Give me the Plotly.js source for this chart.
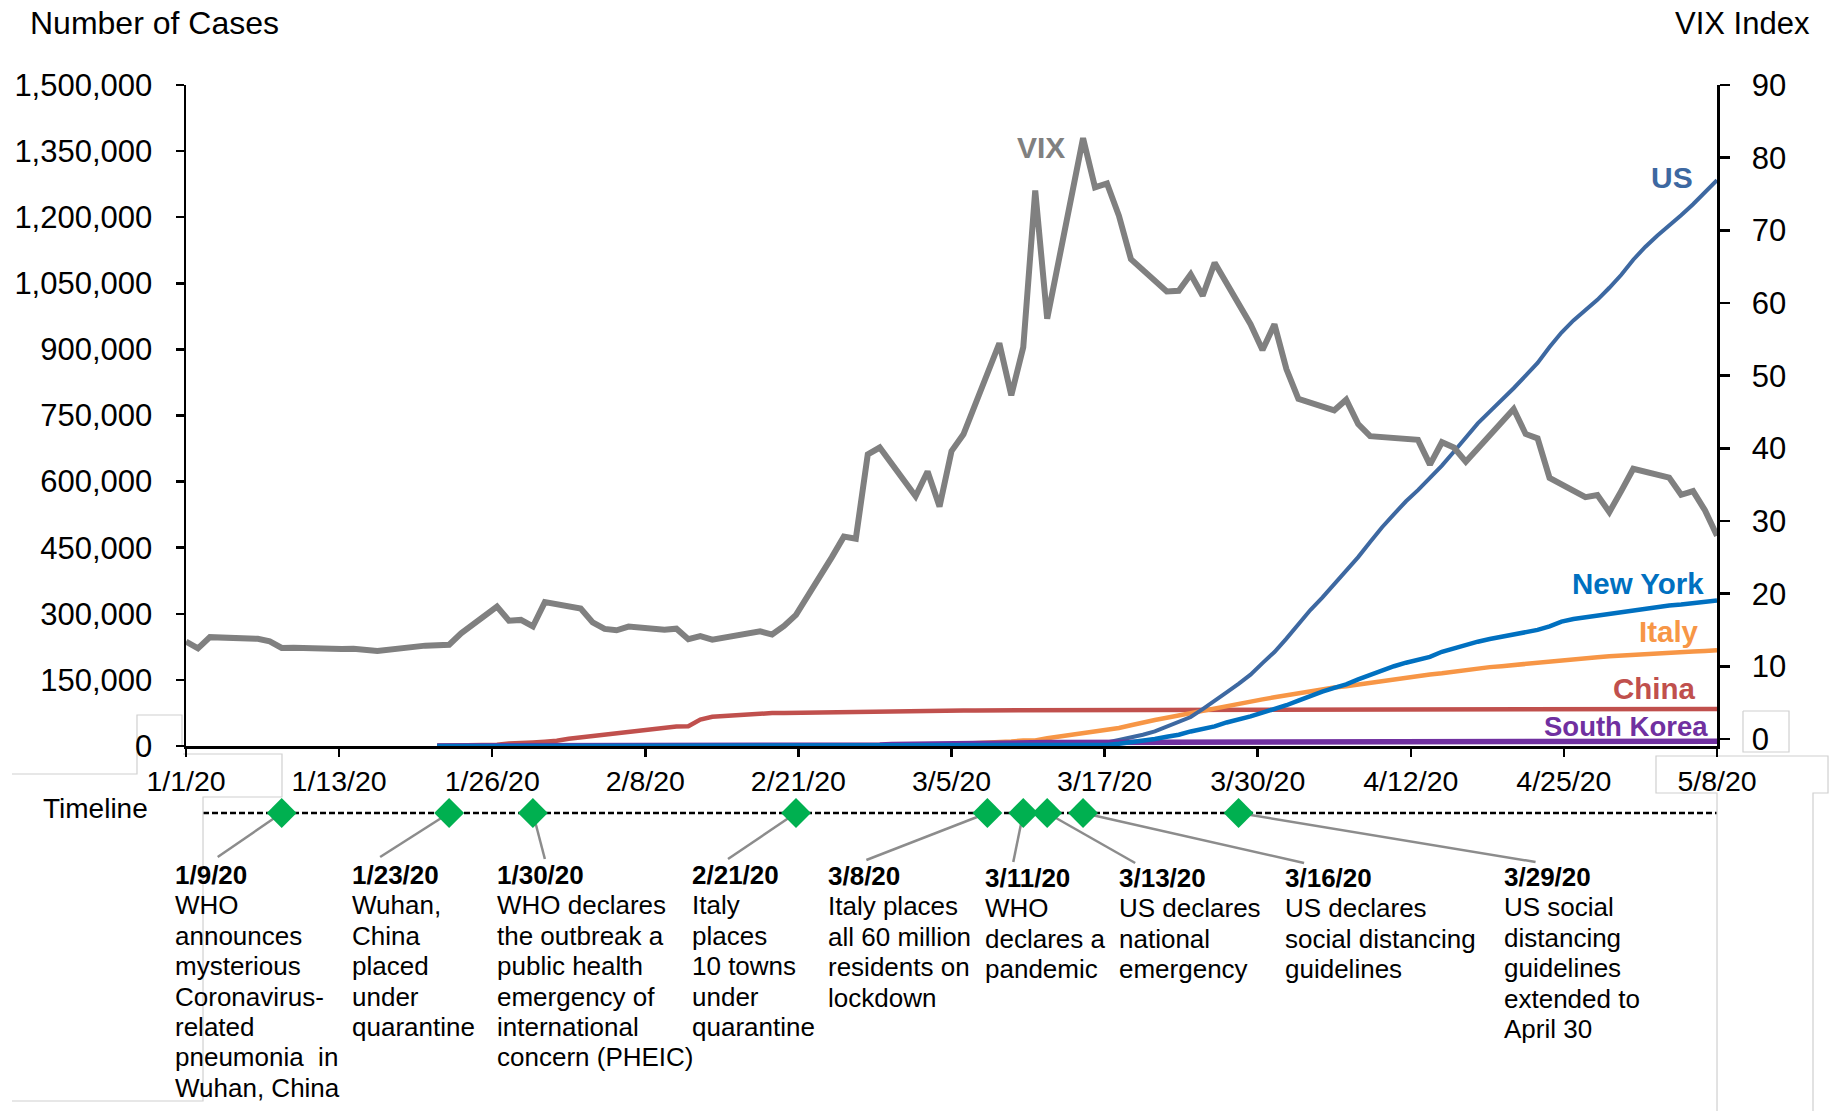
<!DOCTYPE html>
<html>
<head>
<meta charset="utf-8">
<script src="https://cdn.plot.ly/plotly-3.0.1.min.js"></script>
<style>
  html, body { margin: 0; padding: 0; background: #ffffff; }
  #chart { width: 1832px; height: 1111px; }
</style>
</head>
<body>
<div id="chart"></div>
<script>
// ---------------------------------------------------------------------------
// Data
// ---------------------------------------------------------------------------

// Cumulative confirmed cases, one value per day starting 2020-01-22
const casesStart = '2020-01-22';

const chinaCases = [
  548, 643, 920, 1406, 2075, 2877, 5509, 6087, 8141, 9802,
  11891, 16630, 19716, 23707, 27440, 30587, 34110, 36814, 39829, 42354,
  44386, 44759, 59895, 66358, 68413, 70513, 72434, 74211, 74619, 75077,
  75550, 77001, 77022, 77241, 77754, 78166, 78600, 78928, 79356,
  79932, 80136, 80261, 80386, 80537, 80690, 80770, 80823, 80860, 80887,
  80921, 80932, 80945, 80977, 81003, 81033, 81058, 81102, 81156, 81250,
  81305, 81435, 81498, 81591, 81661, 81782, 81897, 81999, 82122, 82198, 82279,
  82361, 82432, 82511, 82543, 82602, 82665, 82718, 82809, 82883, 82941,
  83014, 83134, 83213, 83306, 83356, 83403, 83760, 83787, 83805, 83817,
  83853, 83868, 83884, 83899, 83909, 83912, 83918, 83940, 83944, 83956,
  83959, 83959, 83964, 83966, 83968, 83970, 83975, 83976
];

const italyCases = [
  0, 0, 0, 0, 0, 0, 0, 0, 0, 2,
  2, 2, 2, 2, 2, 3, 3, 3, 3, 3,
  3, 3, 3, 3, 3, 3, 3, 3, 3, 3,
  20, 62, 155, 229, 322, 453, 655, 888, 1128,
  1694, 2036, 2502, 3089, 3858, 4636, 5883, 7375, 9172, 10149,
  12462, 12462, 17660, 21157, 24747, 27980, 31506, 35713, 41035, 47021,
  53578, 59138, 63927, 69176, 74386, 80589, 86498, 92472, 97689, 101739, 105792,
  110574, 115242, 119827, 124632, 128948, 132547, 135586, 139422, 143626, 147577,
  152271, 156363, 159516, 162488, 165155, 168941, 172434, 175925, 178972, 181228,
  183957, 187327, 189973, 192994, 195351, 197675, 199414, 201505, 203591, 205463,
  207428, 209328, 210717, 211938, 213013, 214457, 215858, 217185
];

const usCases = [
  1, 1, 2, 2, 5, 5, 5, 6, 6, 8,
  8, 8, 11, 11, 12, 12, 12, 12, 12, 12,
  13, 13, 14, 15, 15, 15, 15, 15, 15, 15,
  35, 35, 35, 53, 53, 59, 60, 62, 70,
  76, 101, 122, 153, 221, 278, 417, 537, 605, 959,
  1281, 1663, 2179, 2726, 3499, 4632, 6421, 7783, 13747, 19273,
  25600, 33276, 43847, 53740, 65778, 83836, 101657, 121465, 140909, 161831, 188172,
  213242, 243622, 275367, 308650, 336802, 366317, 397121, 428654, 462780, 496535,
  526396, 555313, 580619, 607670, 636350, 667801, 699706, 732197, 758809, 784326,
  811865, 840351, 869170, 905358, 938154, 965785, 988197, 1012582, 1039909, 1069424,
  1103461, 1132539, 1158040, 1180375, 1204351, 1229331, 1257023, 1283929
];

const southKoreaCases = [
  1, 1, 2, 2, 3, 4, 4, 4, 4, 11,
  12, 15, 15, 16, 19, 23, 24, 24, 25, 27,
  28, 28, 28, 28, 28, 29, 30, 31, 31,
  104, 204, 433, 602, 833, 977, 1261, 1766, 2337, 3150,
  3736, 4335, 5186, 5621, 6088, 6593, 7041, 7314, 7478, 7513,
  7755, 7869, 7979, 8086, 8162, 8236, 8320, 8413, 8565, 8652,
  8799, 8897, 8961, 9037, 9137, 9241, 9332, 9478, 9583, 9661, 9786,
  9887, 9976, 10062, 10156, 10237, 10284, 10331, 10384, 10423, 10450,
  10480, 10512, 10537, 10564, 10591, 10613, 10635, 10653, 10661, 10674,
  10683, 10694, 10708, 10718, 10728, 10738, 10752, 10761, 10765, 10774,
  10780, 10793, 10801, 10804, 10806, 10810, 10822, 10840
];

const newYorkCases = [
  0, 0, 0, 0, 0, 0, 0, 0, 0, 0,
  0, 0, 0, 0, 0, 0, 0, 0, 0, 0,
  0, 0, 0, 0, 0, 0, 0, 0, 0, 0,
  0, 0, 0, 0, 0, 0, 0, 0, 0,
  1, 1, 2, 11, 23, 31, 76, 106, 142, 173,
  220, 328, 421, 525, 732, 967, 1706, 2495, 5365, 8310,
  11710, 15793, 20875, 25665, 33066, 38987, 44635, 53363, 59568, 67174, 75832,
  83948, 92506, 102987, 113833, 123160, 131815, 139875, 151061, 161779, 172348,
  181026, 189033, 195031, 202208, 213779, 222284, 229642, 236732, 242786, 247512,
  251690, 257216, 263460, 271590, 282143, 288045, 291996, 295106, 299691, 304372,
  308314, 312977, 316415, 318953, 321192, 323978, 327469, 330407
];

// VIX closing levels (trading days)
const vixDates = [
  '2020-01-01', '2020-01-02', '2020-01-03', '2020-01-06', '2020-01-07', '2020-01-08',
  '2020-01-09', '2020-01-10', '2020-01-13', '2020-01-14', '2020-01-15', '2020-01-16',
  '2020-01-17', '2020-01-21', '2020-01-22', '2020-01-23', '2020-01-24', '2020-01-27',
  '2020-01-28', '2020-01-29', '2020-01-30', '2020-01-31',
  '2020-02-03', '2020-02-04', '2020-02-05', '2020-02-06', '2020-02-07', '2020-02-10',
  '2020-02-11', '2020-02-12', '2020-02-13', '2020-02-14', '2020-02-18', '2020-02-19',
  '2020-02-20', '2020-02-21', '2020-02-24', '2020-02-25', '2020-02-26', '2020-02-27',
  '2020-02-28',
  '2020-03-02', '2020-03-03', '2020-03-04', '2020-03-05', '2020-03-06', '2020-03-09',
  '2020-03-10', '2020-03-11', '2020-03-12', '2020-03-13', '2020-03-16', '2020-03-17',
  '2020-03-18', '2020-03-19', '2020-03-20', '2020-03-23', '2020-03-24', '2020-03-25',
  '2020-03-26', '2020-03-27', '2020-03-30', '2020-03-31',
  '2020-04-01', '2020-04-02', '2020-04-03', '2020-04-06', '2020-04-07', '2020-04-08',
  '2020-04-09', '2020-04-13', '2020-04-14', '2020-04-15', '2020-04-16', '2020-04-17',
  '2020-04-20', '2020-04-21', '2020-04-22', '2020-04-23', '2020-04-24', '2020-04-27',
  '2020-04-28', '2020-04-29', '2020-04-30',
  '2020-05-01', '2020-05-04', '2020-05-05', '2020-05-06', '2020-05-07', '2020-05-08'
];

const vixValues = [
  13.4, 12.47, 14.02, 13.85, 13.79, 13.45,
  12.54, 12.56, 12.32, 12.39, 12.42, 12.32,
  12.10, 12.85, 12.91, 12.98, 14.56, 18.23,
  16.28, 16.39, 15.49, 18.84,
  17.97, 16.05, 15.15, 14.96, 15.47, 15.04,
  15.18, 13.74, 14.15, 13.68, 14.83, 14.38,
  15.56, 17.08, 25.03, 27.85, 27.56, 39.16,
  40.11,
  33.42, 36.82, 31.99, 39.62, 41.94, 54.46,
  47.30, 53.90, 75.47, 57.83, 82.69, 75.91,
  76.45, 72.00, 66.04, 61.59, 61.67, 63.95,
  61.00, 65.54, 57.08, 53.54,
  57.06, 50.91, 46.80, 45.24, 46.70, 43.35,
  41.67, 41.17, 37.76, 40.84, 40.11, 38.15,
  43.83, 45.41, 41.98, 41.38, 35.93, 33.29,
  33.57, 31.23, 34.15,
  37.19, 35.97, 33.61, 34.12, 31.44, 27.98
];

// Date axis labels
const axisStart = '2020-01-01';
const axisEnd = '2020-05-08';
const dateTickLabels = ['1/1/20', '1/13/20', '1/26/20', '2/8/20', '2/21/20', '3/5/20',
                        '3/17/20', '3/30/20', '4/12/20', '4/25/20', '5/8/20'];

// Timeline events
const eventDates = ['2020-01-09', '2020-01-23', '2020-01-30', '2020-02-21', '2020-03-08',
                    '2020-03-11', '2020-03-13', '2020-03-16', '2020-03-29'];
const eventTitles = ['1/9/20', '1/23/20', '1/30/20', '2/21/20', '3/8/20',
                     '3/11/20', '3/13/20', '3/16/20', '3/29/20'];
const eventText = [
  ['WHO', 'announces', 'mysterious', 'Coronavirus-', 'related', 'pneumonia  in', 'Wuhan, China'],
  ['Wuhan,', 'China', 'placed', 'under', 'quarantine'],
  ['WHO declares', 'the outbreak a', 'public health', 'emergency of', 'international', 'concern (PHEIC)'],
  ['Italy', 'places', '10 towns', 'under', 'quarantine'],
  ['Italy places', 'all 60 million', 'residents on', 'lockdown'],
  ['WHO', 'declares a', 'pandemic'],
  ['US declares', 'national', 'emergency'],
  ['US declares', 'social distancing', 'guidelines'],
  ['US social', 'distancing', 'guidelines', 'extended to', 'April 30']
];

// ---------------------------------------------------------------------------
// Page geometry (pixels) and helpers
// ---------------------------------------------------------------------------
const W = 1832, H = 1111;
const fx = x => x / W;
const fy = y => 1 - y / H;

const plotLeft = 186, plotRight = 1717, plotTop = 85, plotBottom = 746;
const timelineY = 813;

const FONT = 'Liberation Sans, Arial, Helvetica, sans-serif';
const BLACK = '#000000';

const colors = {
  vix: '#808080',
  us: '#3D68A1',
  newYork: '#0070C0',
  italy: '#F79646',
  china: '#C0504D',
  southKorea: '#7030A0',
  event: '#00B050',
  connector: '#8C8C8C',
  frame: '#D0D0D0'
};

function dailyDates(start, n) {
  const t0 = Date.parse(start + 'T00:00:00Z');
  const out = [];
  for (let i = 0; i < n; i++) {
    out.push(new Date(t0 + i * 86400000).toISOString().slice(0, 10));
  }
  return out;
}

function msToDateString(ms) {
  return new Date(ms).toISOString().replace('T', ' ').slice(0, 19);
}

const caseDates = dailyDates(casesStart, usCases.length);

// Evenly spaced date ticks across the axis
const tStart = Date.parse(axisStart + 'T00:00:00Z');
const tEnd = Date.parse(axisEnd + 'T00:00:00Z');
const dateTickVals = dateTickLabels.map((_, i) =>
  msToDateString(tStart + i * (tEnd - tStart) / (dateTickLabels.length - 1)));

// ---------------------------------------------------------------------------
// Traces
// ---------------------------------------------------------------------------
function caseTrace(name, values, color, width) {
  return {
    type: 'scatter', mode: 'lines', name: name,
    x: caseDates, y: values,
    xaxis: 'x', yaxis: 'y',
    line: { color: color, width: width },
    hoverinfo: 'skip'
  };
}

const traces = [
  caseTrace('China', chinaCases, colors.china, 4.5),
  caseTrace('Italy', italyCases, colors.italy, 4.5),
  caseTrace('US', usCases, colors.us, 4),
  caseTrace('South Korea', southKoreaCases, colors.southKorea, 5.5),
  caseTrace('New York', newYorkCases, colors.newYork, 4.5),
  {
    type: 'scatter', mode: 'lines', name: 'VIX',
    x: vixDates, y: vixValues,
    xaxis: 'x', yaxis: 'y2',
    line: { color: colors.vix, width: 6 },
    hoverinfo: 'skip'
  },
  {
    type: 'scatter', mode: 'markers', name: 'Events',
    x: eventDates, y: eventDates.map(() => 0),
    xaxis: 'x', yaxis: 'y3',
    marker: { symbol: 'diamond', size: 23, color: colors.event, line: { width: 0 } },
    cliponaxis: false,
    hoverinfo: 'skip'
  }
];

// ---------------------------------------------------------------------------
// Annotations
// ---------------------------------------------------------------------------
const annotations = [];

function textAt(x, y, text, opts) {
  annotations.push(Object.assign({
    xref: 'paper', yref: 'paper', x: fx(x), y: fy(y),
    text: text, showarrow: false,
    xanchor: 'left', yanchor: 'middle',
    font: { family: FONT, size: 26, color: BLACK }
  }, opts || {}));
}

// Axis titles
textAt(28, 23, 'Number of Cases', { font: { family: FONT, size: 32, color: BLACK } });
textAt(1812, 23, 'VIX Index', { xanchor: 'right', font: { family: FONT, size: 31, color: BLACK } });
textAt(150, 808, 'Timeline', { xanchor: 'right', font: { family: FONT, size: 28, color: BLACK } });

// Series labels
const seriesLabels = [
  { text: 'VIX', x: 1041, y: 148, anchor: 'center', color: colors.vix, size: 30 },
  { text: 'US', x: 1695, y: 178, anchor: 'right', color: colors.us, size: 30 },
  { text: 'New York', x: 1706, y: 583, anchor: 'right', color: colors.newYork, size: 29.5 },
  { text: 'Italy', x: 1701, y: 631, anchor: 'right', color: colors.italy, size: 29.5 },
  { text: 'China', x: 1698, y: 688, anchor: 'right', color: colors.china, size: 29.5 },
  { text: 'South Korea', x: 1710, y: 727, anchor: 'right', color: colors.southKorea, size: 27.5 }
];
seriesLabels.forEach(s => {
  textAt(s.x, s.y, '<b>' + s.text + '</b>', {
    xanchor: s.anchor,
    font: { family: FONT, size: s.size, color: s.color }
  });
});

// Event descriptions
const eventLabelX = [173, 350, 495, 690, 826, 983, 1117, 1283, 1502];
const eventLabelY = [875, 875, 875, 875, 876, 878, 878, 878, 877];
const eventLineStep = 30.4;
eventTitles.forEach((title, i) => {
  const lines = ['<b>' + title + '</b>'].concat(eventText[i]);
  lines.forEach((ln, k) => {
    textAt(eventLabelX[i], eventLabelY[i] + k * eventLineStep, ln);
  });
});

// ---------------------------------------------------------------------------
// Shapes
// ---------------------------------------------------------------------------
const shapes = [];

// dashed timeline rule
shapes.push({
  type: 'line', layer: 'below',
  xref: 'paper', x0: fx(203), x1: fx(plotRight),
  yref: 'y3', y0: 0, y1: 0,
  line: { color: BLACK, width: 2.5, dash: '6px,3px' }
});

// leader lines from each event marker to its description (pixel offsets)
const connectorOffsets = [[-64, -44], [-69, -44], [12, -46], [-68, -46], [-121, -47],
                          [-10, -49], [88, -50], [221, -50], [297, -49]];
eventDates.forEach((d, i) => {
  shapes.push({
    type: 'line', layer: 'below',
    xref: 'x', xsizemode: 'pixel', xanchor: d, x0: 0, x1: connectorOffsets[i][0],
    yref: 'y3', ysizemode: 'pixel', yanchor: 0, y0: 0, y1: connectorOffsets[i][1],
    line: { color: colors.connector, width: 2.5 }
  });
});

// faint text-box outlines
function framePath(points) {
  return points.map((p, i) => (i ? 'L' : 'M') + fx(p[0]).toFixed(5) + ',' + fy(p[1]).toFixed(5)).join(' ');
}
const frames = [
  [[12, 774], [137, 774], [137, 715], [182, 715], [182, 746]],
  [[183, 754], [282, 754], [282, 797], [203, 797], [203, 1101], [12, 1101]],
  [[1743, 711], [1789, 711], [1789, 752], [1743, 752], [1743, 711]],
  [[1717, 1111], [1717, 793], [1656, 793], [1656, 756], [1828, 756], [1828, 793], [1813, 793], [1813, 1111]]
];
frames.forEach(pts => {
  shapes.push({
    type: 'path', layer: 'below', xref: 'paper', yref: 'paper',
    path: framePath(pts),
    line: { color: colors.frame, width: 1.2 }
  });
});

// ---------------------------------------------------------------------------
// Layout
// ---------------------------------------------------------------------------
const tickFont = { family: FONT, size: 31, color: BLACK };

const layout = {
  width: W, height: H,
  margin: { l: 0, r: 0, t: 0, b: 0, pad: 0 },
  paper_bgcolor: '#ffffff',
  plot_bgcolor: 'rgba(0,0,0,0)',
  showlegend: false,
  hovermode: false,
  font: { family: FONT, color: BLACK },
  xaxis: {
    type: 'date',
    domain: [fx(plotLeft), fx(plotRight)],
    range: [axisStart, axisEnd],
    anchor: 'y',
    tickmode: 'array', tickvals: dateTickVals, ticktext: dateTickLabels,
    ticks: 'outside', ticklen: 8, tickwidth: 2.5, tickcolor: BLACK,
    showline: true, linecolor: BLACK, linewidth: 2.5,
    showgrid: false, zeroline: false,
    tickfont: { family: FONT, size: 28.5, color: BLACK },
    ticklabelstandoff: 0
  },
  yaxis: {
    domain: [fy(plotBottom), fy(plotTop)],
    range: [0, 1500000],
    tick0: 0, dtick: 150000, tickformat: ',d',
    anchor: 'x', side: 'left',
    ticks: 'outside', ticklen: 8, tickwidth: 2.5, tickcolor: BLACK,
    showline: true, linecolor: BLACK, linewidth: 2.5,
    showgrid: false, zeroline: false,
    tickfont: tickFont,
    ticklabelstandoff: 17
  },
  yaxis2: {
    overlaying: 'y', side: 'right', anchor: 'x',
    range: [-0.96, 90],
    tick0: 0, dtick: 10,
    ticks: 'outside', ticklen: 10, tickwidth: 2.5, tickcolor: BLACK,
    showline: true, linecolor: BLACK, linewidth: 2.5,
    showgrid: false, zeroline: false,
    tickfont: tickFont,
    ticklabelstandoff: 16
  },
  yaxis3: {
    domain: [fy(timelineY + 70), fy(timelineY - 70)],
    range: [-1, 1],
    anchor: 'x',
    visible: false,
    showgrid: false, zeroline: false
  },
  annotations: annotations,
  shapes: shapes
};

Plotly.newPlot('chart', traces, layout, { displayModeBar: false, staticPlot: true });
</script>
</body>
</html>
